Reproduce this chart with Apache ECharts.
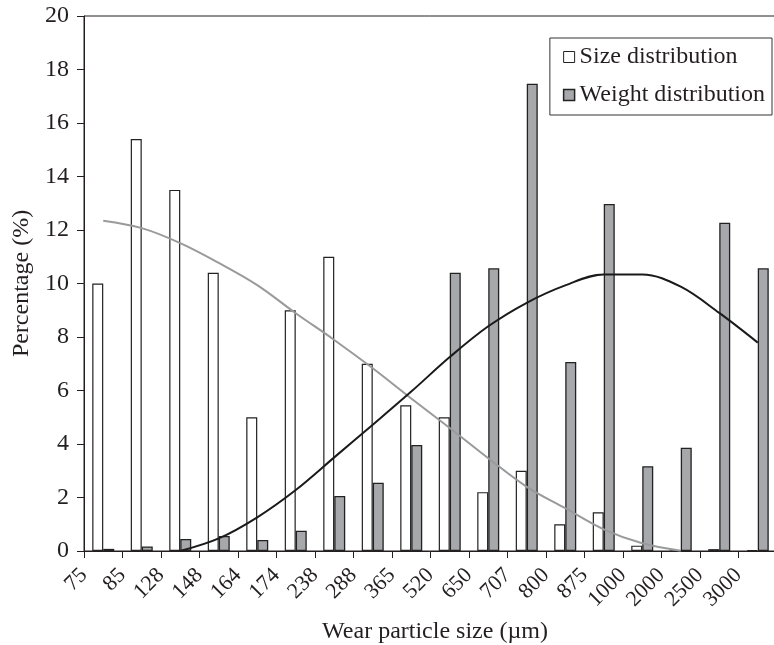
<!DOCTYPE html>
<html>
<head>
<meta charset="utf-8">
<script src="https://cdn.jsdelivr.net/npm/echarts@6/dist/echarts.min.js"></script>
<style>
  html, body { margin: 0; padding: 0; background: #fff; }
  #chart { width: 774px; height: 645px; }
</style>
</head>
<body>
<div id="chart"></div>
<script>
// Particle size bins (lower bound of each bin, µm)
const categories = ['75', '85', '128', '148', '164', '174', '238', '288', '365',
  '520', '650', '707', '800', '875', '1000', '2000', '2500', '3000'];

// Percentage of particles by count in each bin
const sizeDist = [10, 15.4, 13.5, 10.4, 5, 9, 11, 7, 5.45, 5, 2.2, 3, 1, 1.45,
  0.2, 0, 0.07, 0.03];

// Percentage of particles by weight in each bin
const weightDist = [0.08, 0.17, 0.45, 0.56, 0.41, 0.76, 2.06, 2.55, 3.96, 10.4,
  10.57, 17.47, 7.07, 12.97, 3.17, 3.86, 12.27, 10.57];

// Fitted trend of the size distribution
const sizeTrend = [12.35, 12.07, 11.51, 10.77, 9.94, 8.89, 7.89, 6.83, 5.7, 4.6,
  3.47, 2.4, 1.6, 0.81, 0.29, 0.01, null, null];

// Fitted trend of the weight distribution
const weightTrend = [null, null, 0, 0.47, 1.26, 2.28, 3.5, 4.72, 5.96, 7.25,
  8.4, 9.28, 9.93, 10.34, 10.34, 9.88, 8.9, 7.79];

// Tick labels sit on the bin boundaries
const tickLabels = categories.concat(['']);

const FONT = '"Liberation Serif", "Times New Roman", serif';
const INK = '#231f20';

const chart = echarts.init(document.getElementById('chart'), null, { renderer: 'canvas' });

chart.setOption({
  animation: false,
  backgroundColor: '#fff',
  textStyle: { fontFamily: FONT, color: INK },
  grid: {
    left: 84, top: 16, width: 693, height: 535,
    containLabel: false,
    outerBoundsMode: 'none',
    show: true, borderColor: INK, borderWidth: 1, backgroundColor: 'transparent'
  },
  legend: {
    orient: 'vertical',
    right: 2, top: 38,
    padding: [7, 7, 8, 13],
    itemGap: 14,
    itemWidth: 11, itemHeight: 11,
    itemTextGap: 7,
    backgroundColor: '#fff',
    borderColor: '#333', borderWidth: 1,
    icon: 'rect',
    textStyle: { fontFamily: FONT, fontSize: 24, color: INK },
    data: [
      { name: 'Size distribution', itemStyle: { color: '#fff', borderColor: '#222', borderWidth: 1 } },
      { name: 'Weight distribution', itemStyle: { color: '#a7a8ab', borderColor: '#222', borderWidth: 1.5 } }
    ]
  },
  xAxis: [
    {
      type: 'category',
      data: categories,
      boundaryGap: true,
      axisLine: { lineStyle: { color: INK, width: 1 } },
      axisTick: { show: true, inside: false, length: 7, lineStyle: { color: INK } },
      axisLabel: { show: false },
      name: 'Wear particle size (\u00b5m)',
      nameLocation: 'middle',
      nameGap: 69,
      nameTextStyle: { fontFamily: FONT, fontSize: 24, color: INK, padding: [0, 0, 0, 9] }
    },
    {
      type: 'category',
      data: tickLabels,
      boundaryGap: false,
      position: 'bottom',
      axisLine: { show: false },
      axisTick: { show: false },
      axisLabel: {
        show: true, interval: 0, rotate: 45, margin: 21,
        fontFamily: FONT, fontSize: 22, color: INK
      }
    }
  ],
  yAxis: {
    type: 'value',
    min: 0, max: 20, interval: 2,
    splitLine: { show: false },
    axisLine: { show: true, lineStyle: { color: INK, width: 1 } },
    axisTick: { show: true, inside: false, length: 7, lineStyle: { color: INK } },
    axisLabel: { margin: 15, fontFamily: FONT, fontSize: 24, color: INK },
    name: 'Percentage (%)',
    nameLocation: 'middle',
    nameGap: 50,
    nameTextStyle: { fontFamily: FONT, fontSize: 24, color: INK }
  },
  series: [
    {
      name: 'Size distribution',
      type: 'bar',
      xAxisIndex: 0,
      data: sizeDist,
      barWidth: 11,
      barGap: '0%',
      itemStyle: { color: '#fff', borderColor: '#222', borderWidth: 1.2 }
    },
    {
      name: 'Weight distribution',
      type: 'bar',
      xAxisIndex: 0,
      data: weightDist,
      barWidth: 11,
      barGap: '0%',
      itemStyle: { color: '#a7a8ab', borderColor: '#222', borderWidth: 1.3 }
    },
    {
      name: 'Size trend',
      type: 'line',
      xAxisIndex: 0,
      data: sizeTrend,
      smooth: 0.35,
      showSymbol: false,
      connectNulls: false,
      lineStyle: { color: '#999a9c', width: 2 },
      z: 5
    },
    {
      name: 'Weight trend',
      type: 'line',
      xAxisIndex: 0,
      data: weightTrend,
      smooth: 0.35,
      showSymbol: false,
      connectNulls: false,
      lineStyle: { color: '#1a1a1a', width: 2 },
      z: 5
    }
  ]
});
</script>
</body>
</html>
